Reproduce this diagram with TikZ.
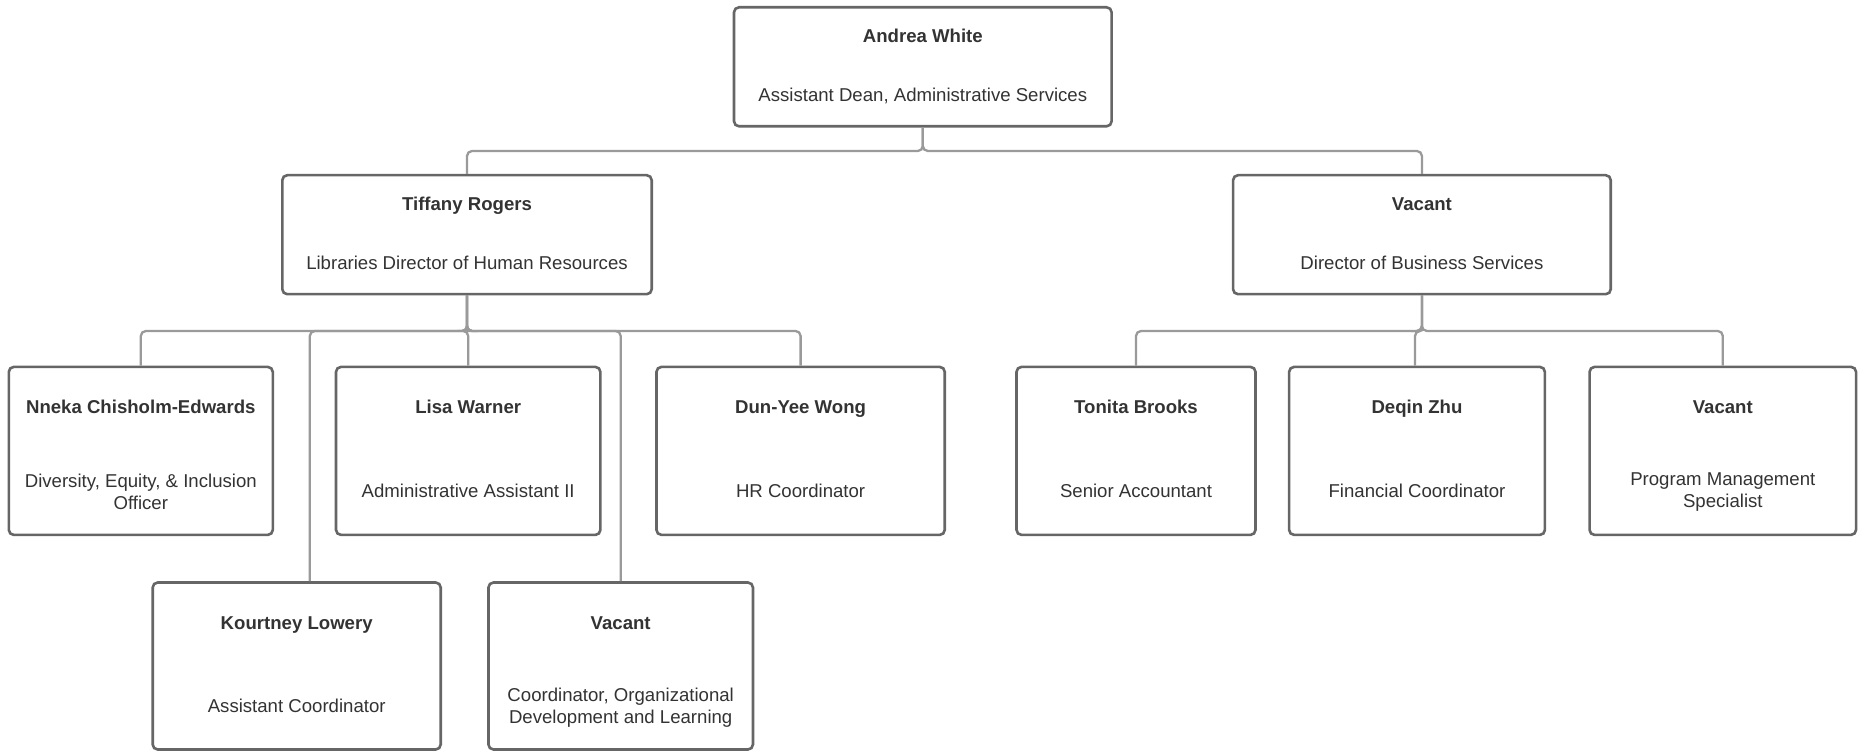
\documentclass[tikz,border=0pt]{standalone}
\usepackage{fontspec}
\setmainfont{Liberation Sans}
\usetikzlibrary{calc}
\definecolor{boxline}{HTML}{666666}
\definecolor{connline}{HTML}{9A9A9A}
\definecolor{txt}{HTML}{333333}
\begin{document}
\begin{tikzpicture}[x=1pt,y=-1pt,
  card/.style={draw=boxline, line width=2.6pt, rounded corners=5pt, fill=white, inner sep=0pt},
  lvlA/.style={card, minimum height=119pt},
  lvlB/.style={card, minimum height=168pt},
  lvlC/.style={card, minimum height=167pt},
  nm/.style={font=\fontsize{18.6}{22.6}\selectfont\bfseries, text=txt, anchor=base, inner sep=0pt},
  ttl/.style={font=\fontsize{18.6}{22.6}\selectfont, text=txt, anchor=base, inner sep=0pt},
  ttltwo/.style={font=\fontsize{18.6}{22.6}\selectfont, text=txt, anchor=center, align=center, inner sep=0pt},
  conn/.style={draw=connline, line width=2.3pt, rounded corners=5pt}]
\useasboundingbox (0,0) rectangle (1868,751);

% boxes
\node[lvlA, minimum width=377.6pt] (a) at (922.8,66.8) {};
\node[lvlA, minimum width=369.4pt] (t) at (467,234.7) {};
\node[lvlA, minimum width=377.7pt] (d) at (1421.9,234.7) {};
\node[lvlB, minimum width=264pt] (n) at (140.8,450.9) {};
\node[lvlB, minimum width=264.4pt] (l) at (468.2,450.9) {};
\node[lvlB, minimum width=288.3pt] (w) at (800.6,450.9) {};
\node[lvlB, minimum width=239pt] (tb) at (1136,450.9) {};
\node[lvlB, minimum width=255.8pt] (z) at (1417,450.9) {};
\node[lvlB, minimum width=266.5pt] (p) at (1722.8,450.9) {};
\node[lvlC, minimum width=288pt] (k) at (296.7,666) {};
\node[lvlC, minimum width=264.5pt] (v) at (620.7,666) {};

% texts
\node[nm] (aN) at ([yshift=-36.4pt]a.north) {Andrea White};
\node[ttl] (aT) at ([yshift=-96pt]a.north) {Assistant Dean, Administrative Services};
\node[nm] (tN) at ([yshift=-36.4pt]t.north) {Tiffany Rogers};
\node[ttl] (tT) at ([yshift=-96pt]t.north) {Libraries Director of Human Resources};
\node[nm] (dN) at ([yshift=-36.4pt]d.north) {Vacant};
\node[ttl] (dT) at ([yshift=-96pt]d.north) {Director of Business Services};

\node[nm] (nN) at ([yshift=-48.3pt]n.north) {Nneka Chisholm-Edwards};
\node[ttltwo] (nT) at ([yshift=-126.4pt]n.north) {Diversity, Equity, \& Inclusion\\Officer};
\node[nm] (lN) at ([yshift=-48.3pt]l.north) {Lisa Warner};
\node[ttl] (lT) at ([yshift=-131.7pt]l.north) {Administrative Assistant II};
\node[nm] (wN) at ([yshift=-48.3pt]w.north) {Dun-Yee Wong};
\node[ttl] (wT) at ([yshift=-131.7pt]w.north) {HR Coordinator};
\node[nm] (tbN) at ([yshift=-48.3pt]tb.north) {Tonita Brooks};
\node[ttl] (tbT) at ([yshift=-131.7pt]tb.north) {Senior Accountant};
\node[nm] (zN) at ([yshift=-48.3pt]z.north) {Deqin Zhu};
\node[ttl] (zT) at ([yshift=-131.7pt]z.north) {Financial Coordinator};
\node[nm] (pN) at ([yshift=-48.3pt]p.north) {Vacant};
\node[ttltwo] (pT) at ([yshift=-126.4pt]p.north) {Program Management\\Specialist};
\node[nm] (kN) at ([yshift=-48.3pt]k.north) {Kourtney Lowery};
\node[ttl] (kT) at ([yshift=-131.7pt]k.north) {Assistant Coordinator};
\node[nm] (vN) at ([yshift=-48.3pt]v.north) {Vacant};
\node[ttltwo] (vT) at ([yshift=-126.4pt]v.north) {Coordinator, Organizational\\Development and Learning};

% connectors
\coordinate (bus1) at (0,151);
\coordinate (bus2) at (0,331);
\coordinate (kin) at ([xshift=13.1pt]k.north);
\coordinate (zin) at ([xshift=-2pt]z.north);

\draw[conn] (a.south) |- (t.north |- bus1) -- (t.north);
\draw[conn] (a.south) |- (d.north |- bus1) -- (d.north);

\draw[conn] (t.south) |- (n.north |- bus2) -- (n.north);
\draw[conn] (t.south) |- (kin |- bus2) -- (kin);
\draw[conn] (t.south) |- (l.north |- bus2) -- (l.north);
\draw[conn] (t.south) |- (v.north |- bus2) -- (v.north);
\draw[conn] (t.south) |- (w.north |- bus2) -- (w.north);

\draw[conn] (d.south) |- (tb.north |- bus2) -- (tb.north);
\draw[conn] (d.south) |- (zin |- bus2) -- (zin);
\draw[conn] (d.south) |- (p.north |- bus2) -- (p.north);
\end{tikzpicture}
\end{document}
